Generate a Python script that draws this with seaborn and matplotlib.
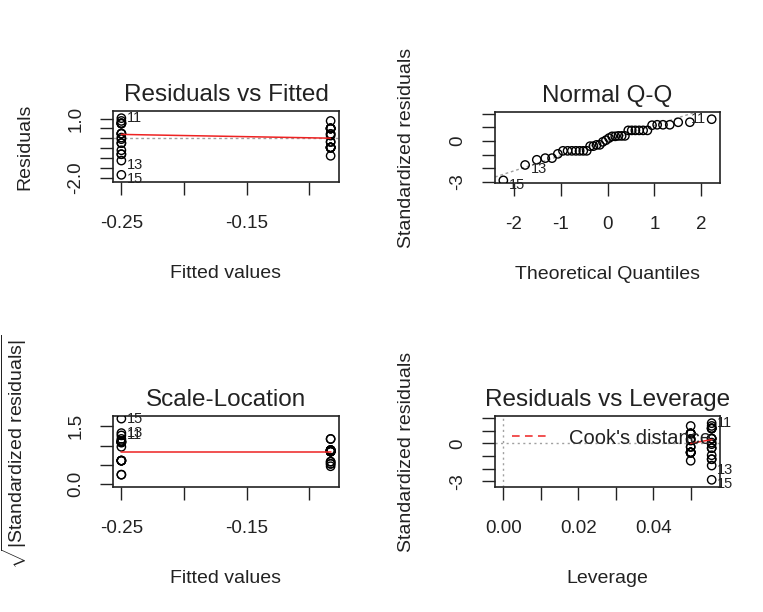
import numpy as np
import pandas as pd
import matplotlib
matplotlib.use('Agg')
import matplotlib.pyplot as plt
from matplotlib.lines import Line2D
import seaborn as sns
from statistics import NormalDist

# lm with one two-level predictor, 38 observations
obs_id = list(range(1, 39))
group = list('AB' * 18 + 'BB')
residuals = [0.76, 0.50, 0.24, -0.46, -0.24, 0.22, 0.88, -0.46, -0.80, 0.88,
             1.02, -0.18, -1.12, 0.50, -1.84, -0.46, 0.24, 0.50, -0.04, -0.88,
             0.76, 0.14, -0.60, -0.46, 0.24, 0.50, 0.76, -0.18, -0.24, 0.22,
             0.74, -0.46, -0.80, 0.50, 0.04, -0.46, 0.50, -0.46]
fitted_level = {'A': -0.25, 'B': -0.083}
leverage_level = {'A': 0.0556, 'B': 0.05}

# red lowess smoothers
rvf_smooth_x = [-0.25, -0.083]
rvf_smooth_y = [0.20, 0.01]
sl_smooth_y = [0.84, 0.84]
rvl_smooth_x = [0.05, 0.0556]
rvl_smooth_y = [0.0, 0.3]

# ticks and the labels R managed to print
fit_xticks = [-0.25, -0.20, -0.15, -0.10]
fit_xlabels = ['-0.25', '', '-0.15', '']
rvf_yticks = [-2.0, -1.5, -1.0, -0.5, 0.0, 0.5, 1.0]
rvf_ylabels = ['-2.0', '', '', '', '', '', '1.0']
qq_xticks = [-2, -1, 0, 1, 2]
qq_xlabels = ['-2', '-1', '0', '1', '2']
std_yticks = [-3, -2, -1, 0, 1, 2]
std_ylabels = ['-3', '', '', '0', '', '']
sl_yticks = [0.0, 0.5, 1.0, 1.5]
sl_ylabels = ['0.0', '', '', '1.5']
lev_xticks = [0.00, 0.01, 0.02, 0.03, 0.04, 0.05]
lev_xlabels = ['0.00', '', '0.02', '', '0.04', '']

TXT = '#222222'
RED = '#ee2222'
GREY = '#a0a0a0'

sns.set_theme(style='ticks')
plt.rcParams['font.family'] = ['Liberation Sans', 'DejaVu Sans']
plt.rcParams['mathtext.fontset'] = 'custom'
plt.rcParams['mathtext.rm'] = 'Liberation Sans'
plt.rcParams['mathtext.it'] = 'Liberation Sans:italic'
plt.rcParams['text.color'] = TXT
plt.rcParams['axes.labelcolor'] = TXT

# build the diagnostics the way plot.lm does
df = pd.DataFrame({'obs': obs_id, 'group': group, 'resid': residuals})
df['fitted'] = df['group'].map(fitted_level)
df['hat'] = df['group'].map(leverage_level)
n, p = len(df), 2
sigma = np.sqrt((df['resid'] ** 2).sum() / (n - p))
df['std_resid'] = df['resid'] / (sigma * np.sqrt(1 - df['hat']))
df['sqrt_abs'] = np.sqrt(df['std_resid'].abs())
df['cooks'] = df['std_resid'] ** 2 * df['hat'] / (p * (1 - df['hat']))
nd = NormalDist()
rank = df['std_resid'].rank(method='first')
df['theo'] = [nd.inv_cdf((r - 0.5) / n) for r in rank]

W, H = 763, 612
fig = plt.figure(figsize=(W / 100, H / 100), dpi=100)


def px_axes(left, top, right, bottom):
    return fig.add_axes([left / W, 1 - bottom / H, (right - left) / W, (bottom - top) / H])


def rlim(lo, hi, f=0.0):
    # R: optional extendrange, then the usual 4% padding
    d = hi - lo
    lo, hi = lo - f * d, hi + f * d
    d = hi - lo
    return lo - 0.04 * d, hi + 0.04 * d


def style(ax, title, xlab, ylab, xt, xl, yt, yl, ylab_x):
    ax.set_title(title, fontsize=17.5, pad=7, color=TXT)
    ax.set_xlabel(xlab, fontsize=14)
    ax.set_ylabel(ylab, fontsize=14)
    ax.xaxis.set_label_coords(0.5, -1.17)
    ax.yaxis.set_label_coords(ylab_x, 0.5)
    ax.set_xticks(xt, labels=xl)
    ax.set_yticks(yt, labels=yl)
    ax.tick_params(axis='x', length=9.5, width=1, pad=14, labelsize=13.5, colors=TXT)
    ax.tick_params(axis='y', length=9.5, width=1, pad=11, labelsize=13.5, colors=TXT)
    for t in ax.get_yticklabels():
        t.set_rotation(90)
        t.set_va('center')
    for s in ax.spines.values():
        s.set_visible(True)
        s.set_linewidth(1.2)
        s.set_color('#222222')


def points(ax, x, y):
    sns.scatterplot(data=df, x=x, y=y, ax=ax, marker='o', s=36, facecolors='none',
                    edgecolor='black', linewidth=1.0, legend=False, zorder=3)


def label_ids(ax, sub, x, y, side='right'):
    for _, r in sub.iterrows():
        left = side == 'left'
        dy = -3 if r[y] < 0 else 0
        ax.annotate(str(r['obs']), (r[x], r[y]), xytext=(-4 if left else 4, dy),
                    textcoords='offset points', ha='right' if left else 'left',
                    va='center', fontsize=10.5, color=TXT, annotation_clip=False)


# Residuals vs Fitted
ax1 = px_axes(113, 111, 339, 182)
points(ax1, 'fitted', 'resid')
ax1.plot(rvf_smooth_x, rvf_smooth_y, color=RED, lw=1.1, zorder=4)
ax1.axhline(0, color=GREY, ls=(0, (2, 2)), lw=1, zorder=2)
ax1.set_xlim(rlim(df['fitted'].min(), df['fitted'].max()))
ax1.set_ylim(rlim(df['resid'].min(), df['resid'].max(), 0.08))
top3 = df.loc[df['resid'].abs().nlargest(3).index]
label_ids(ax1, top3, 'fitted', 'resid')
style(ax1, 'Residuals vs Fitted', 'Fitted values', 'Residuals',
      fit_xticks, fit_xlabels, rvf_yticks, rvf_ylabels, -0.354)

# Normal Q-Q
ax2 = px_axes(495, 112, 720, 183)
points(ax2, 'theo', 'std_resid')
q1, q3 = np.quantile(df['std_resid'], [0.25, 0.75])
ax2.axline((nd.inv_cdf(0.25), q1), (nd.inv_cdf(0.75), q3), color=GREY, ls=(0, (2, 2)), lw=1, zorder=2)
ax2.set_xlim(rlim(df['theo'].min(), df['theo'].max()))
lo, hi = df['std_resid'].min(), df['std_resid'].max()
ax2.set_ylim(rlim(lo, hi + 0.075 * (hi - lo)))
top3 = df.loc[df['std_resid'].abs().nlargest(3).index]
mid = (top3['theo'].min() + top3['theo'].max()) / 2
for side, sub in (('right', top3[top3['theo'] <= mid]), ('left', top3[top3['theo'] > mid])):
    label_ids(ax2, sub, 'theo', 'std_resid', side)
style(ax2, 'Normal Q-Q', 'Theoretical Quantiles', 'Standardized residuals',
      qq_xticks, qq_xlabels, std_yticks, std_ylabels, -0.356)

# Scale-Location
ax3 = px_axes(113, 416, 339, 487)
points(ax3, 'fitted', 'sqrt_abs')
ax3.plot(rvf_smooth_x, sl_smooth_y, color=RED, lw=1.1, zorder=4)
ax3.set_xlim(rlim(df['fitted'].min(), df['fitted'].max()))
ax3.set_ylim(rlim(0, df['sqrt_abs'].max()))
top3 = df.loc[df['sqrt_abs'].nlargest(3).index]
label_ids(ax3, top3, 'fitted', 'sqrt_abs')
style(ax3, 'Scale-Location', 'Fitted values', r'$\sqrt{|\mathrm{Standardized\ residuals}|}$',
      fit_xticks, fit_xlabels, sl_yticks, sl_ylabels, -0.37)

# Residuals vs Leverage
ax4 = px_axes(495, 416, 720, 487)
points(ax4, 'hat', 'std_resid')
ax4.plot(rvl_smooth_x, rvl_smooth_y, color=RED, lw=1.1, zorder=4)
ax4.axhline(0, color=GREY, ls=(0, (1.5, 2.5)), lw=1, zorder=2)
ax4.axvline(0, color=GREY, ls=(0, (1.5, 2.5)), lw=1, zorder=2)
ax4.set_xlim(rlim(0, df['hat'].max()))
ax4.set_ylim(rlim(df['std_resid'].min(), df['std_resid'].max(), 0.08))
top3 = df.loc[df['cooks'].nlargest(3).index]
label_ids(ax4, top3, 'hat', 'std_resid')
ax4.legend(handles=[Line2D([], [], color=RED, ls=(0, (5, 3.5)), lw=1.1)],
           labels=["Cook's distance"], loc='center left', bbox_to_anchor=(0.075, 0.69),
           frameon=False, fontsize=14.5, handlelength=1.75, handletextpad=1.1,
           borderpad=0, borderaxespad=0)
style(ax4, 'Residuals vs Leverage', 'Leverage', 'Standardized residuals',
      lev_xticks, lev_xlabels, std_yticks, std_ylabels, -0.356)

fig.savefig('out.png', dpi=100)
